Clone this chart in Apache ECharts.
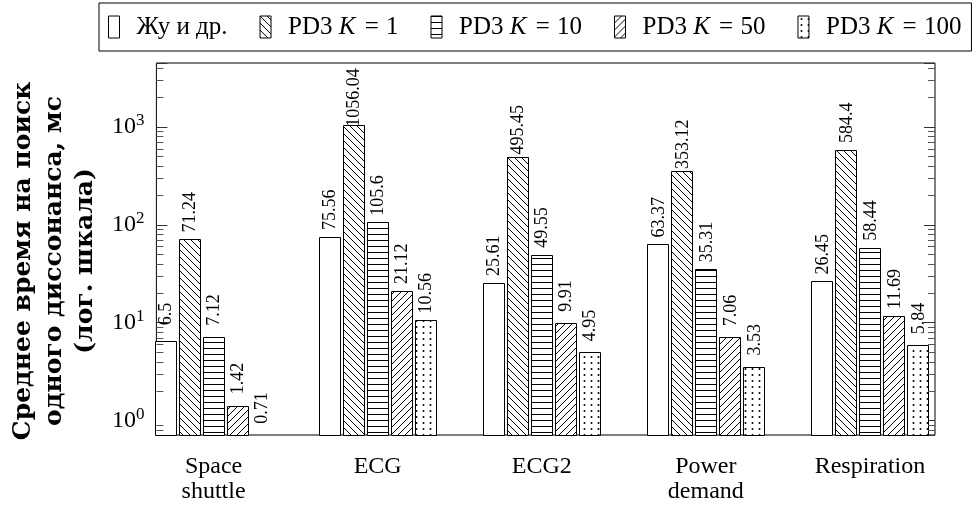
<!DOCTYPE html>
<html>
<head>
<meta charset="utf-8">
<script src="https://cdn.jsdelivr.net/npm/echarts@6/dist/echarts.min.js"></script>
<style>
  html, body { margin: 0; padding: 0; background: #fff; }
  #chart { width: 977px; height: 513px; }
</style>
</head>
<body>
<div id="chart"></div>
<script>
// Datasets (x categories)
const categories = ['Space\nshuttle', 'ECG', 'ECG2', 'Power\ndemand', 'Respiration'];

// Mean time per discord search, ms
const seriesNames = ['Жу и др.', 'PD3 K = 1', 'PD3 K = 10', 'PD3 K = 50', 'PD3 K = 100'];
const zhuValues   = [6.5, 75.56, 25.61, 63.37, 26.45];
const pd3K1       = [71.24, 1056.04, 495.45, 353.12, 584.4];
const pd3K10      = [7.12, 105.6, 49.55, 35.31, 58.44];
const pd3K50      = [1.42, 21.12, 9.91, 7.06, 11.69];
const pd3K100     = [0.71, 10.56, 4.95, 3.53, 5.84];

// Log axis range
const yMin = 0.71;
const yMax = 4500;

// Minor tick values between decades
const minorTicks = [0.8, 0.9,
  2, 3, 4, 5, 6, 7, 8, 9,
  20, 30, 40, 50, 60, 70, 80, 90,
  200, 300, 400, 500, 600, 700, 800, 900,
  2000, 3000, 4000];

const SERIF = '"Liberation Serif", "DejaVu Serif", serif';
const TITLE_FONT = '"DejaVu Serif", "Liberation Serif", serif';

const BAR_W = 21;      // bar width, px
const BAR_STEP = 24;   // distance between neighbouring bars in a group, px
const LABEL_OFF = 27;  // value label centre above the bar top, px

// Fill patterns: plain, "\\\\" hatch, horizontal lines, "////" hatch, dots
function makeTile(w, h, draw) {
  const c = document.createElement('canvas');
  c.width = w; c.height = h;
  const ctx = c.getContext('2d');
  ctx.fillStyle = '#fff';
  ctx.fillRect(0, 0, w, h);
  ctx.strokeStyle = '#000';
  ctx.fillStyle = '#000';
  ctx.lineWidth = 1;
  draw(ctx, w, h);
  return { image: c, repeat: 'repeat' };
}
const fills = [
  '#fff',
  makeTile(7, 7, (ctx, s) => {
    ctx.beginPath();
    for (let k = -1; k <= 1; k++) { ctx.moveTo(k * s, 0); ctx.lineTo(k * s + s, s); }
    ctx.stroke();
  }),
  makeTile(6, 6, (ctx, w) => {
    ctx.beginPath(); ctx.moveTo(0, 0.5); ctx.lineTo(w, 0.5); ctx.stroke();
  }),
  makeTile(7, 7, (ctx, s) => {
    ctx.beginPath();
    for (let k = -1; k <= 1; k++) { ctx.moveTo(k * s, s); ctx.lineTo(k * s + s, 0); }
    ctx.stroke();
  }),
  makeTile(7, 6, ctx => {
    ctx.beginPath(); ctx.arc(3.5, 3, 1, 0, Math.PI * 2); ctx.fill();
  })
];
const valueSets = [zhuValues, pd3K1, pd3K10, pd3K50, pd3K100];

// Grouped bars drawn from the bottom of the log axis up to each value
const barSeries = valueSets.map((vals, i) => ({
  name: seriesNames[i],
  type: 'custom',
  xAxisIndex: 1,
  yAxisIndex: 2,
  data: vals.map((v, j) => [j, v]),
  encode: { x: 0, y: 1 },
  itemStyle: { color: fills[i], borderColor: '#000', borderWidth: 1 },
  renderItem: (params, api) => {
    const j = api.value(0);
    const v = api.value(1);
    const top = api.coord([j, v]);
    const base = api.coord([j, yMin]);
    const cx = top[0] + (params.seriesIndex - 2) * BAR_STEP;
    const h = Math.round(base[1]) - Math.round(top[1]);
    const children = [];
    if (h > 0) {
      children.push({
        type: 'rect',
        shape: { x: Math.round(cx - BAR_W / 2) + 0.5, y: Math.round(top[1]) + 0.5, width: BAR_W, height: h },
        style: { fill: fills[params.seriesIndex], stroke: '#000', lineWidth: 1 }
      });
    }
    children.push({
      type: 'text',
      x: cx + 1,
      y: top[1] - LABEL_OFF,
      rotation: Math.PI / 2,
      style: {
        text: String(v), fontFamily: SERIF, fontSize: 18, fill: '#000',
        align: 'center', verticalAlign: 'middle'
      }
    });
    return { type: 'group', children };
  }
}));

const minorTickSeries = {
  type: 'custom',
  xAxisIndex: 0,
  yAxisIndex: 0,
  silent: true,
  data: minorTicks.map(v => [0, v]),
  renderItem: (params, api) => {
    const y = Math.round(api.coord([0, api.value(1)])[1]) + 0.5;
    const cs = params.coordSys;
    const style = { stroke: '#555', lineWidth: 1 };
    return {
      type: 'group',
      children: [
        { type: 'line', shape: { x1: cs.x, y1: y, x2: cs.x + 7, y2: y }, style },
        { type: 'line', shape: { x1: cs.x + cs.width - 7, y1: y, x2: cs.x + cs.width, y2: y }, style }
      ]
    };
  }
};

const powerLabel = v => {
  const e = Math.round(Math.log10(v));
  if (Math.abs(Math.log10(v) - e) > 1e-6) return '';
  return '{b|10}{s|' + e + '}';
};

const logAxisBase = {
  type: 'log',
  logBase: 10,
  min: yMin,
  max: yMax,
  splitLine: { show: false },
  axisLine: { show: false }
};

const option = {
  animation: false,
  backgroundColor: '#fff',
  legend: {
    left: 99,
    right: 0,
    top: 3,
    padding: [9, 10, 9, 9],
    borderColor: '#000',
    borderWidth: 1,
    itemWidth: 11,
    itemHeight: 22,
    itemGap: 32,
    icon: 'rect',
    itemStyle: { borderColor: '#000', borderWidth: 1 },
    data: seriesNames.map((n, i) => ({ name: n, itemStyle: { color: fills[i], borderColor: '#000', borderWidth: 1 } })),
    textStyle: {
      fontFamily: SERIF,
      fontSize: 25,
      lineHeight: 30,
      color: '#000',
      padding: [0, 0, 0, 12],
      rich: {
        i: { fontFamily: SERIF, fontSize: 25, lineHeight: 30, fontStyle: 'italic', color: '#000', padding: [0, 2, 0, 0] },
        e: { fontFamily: SERIF, fontSize: 25, lineHeight: 30, color: '#000', padding: [0, 1, 0, 1] }
      }
    },
    formatter: name => name.replace('K', '{i|K}').replace('=', '{e|=}')
  },
  grid: [
    // framed plot area
    { left: 147, right: 42, top: 63, bottom: 78, show: true, borderColor: '#000', borderWidth: 1, backgroundColor: 'transparent' },
    // band layout for the bar groups
    { left: 131.5, right: 25, top: 63, bottom: 78 }
  ],
  xAxis: [
    { type: 'value', gridIndex: 0, min: 0, max: 1, show: false },
    {
      type: 'category', gridIndex: 1, data: categories,
      axisLine: { show: false }, axisTick: { show: false },
      axisLabel: { margin: 19, fontFamily: SERIF, fontSize: 24, color: '#000', lineHeight: 25 }
    }
  ],
  yAxis: [
    Object.assign({}, logAxisBase, {
      gridIndex: 0, position: 'left',
      axisTick: { show: true, inside: true, length: 11, lineStyle: { color: '#333' } },
      axisLabel: {
        margin: 12, formatter: powerLabel, color: '#000',
        rich: {
          b: { fontFamily: SERIF, fontSize: 24, color: '#000' },
          s: { fontFamily: SERIF, fontSize: 17, color: '#000', padding: [0, 0, 12, 0] }
        }
      },
      name: 'Среднее время на поиск\nодного диссонанса, мс\n(лог. шкала)',
      nameLocation: 'middle',
      nameRotate: 90,
      nameGap: 52,
      nameTextStyle: { fontFamily: TITLE_FONT, fontWeight: 'bold', fontSize: 25, lineHeight: 31, color: '#000', padding: [0, 24, 0, 0] }
    }),
    Object.assign({}, logAxisBase, {
      gridIndex: 0, position: 'right',
      axisTick: { show: true, inside: true, length: 11, lineStyle: { color: '#333' } },
      axisLabel: { show: false }
    }),
    Object.assign({}, logAxisBase, { gridIndex: 1, show: false })
  ],
  series: barSeries.concat([minorTickSeries])
};

const chart = echarts.init(document.getElementById('chart'), null, { renderer: 'canvas' });
chart.setOption(option);
</script>
</body>
</html>
